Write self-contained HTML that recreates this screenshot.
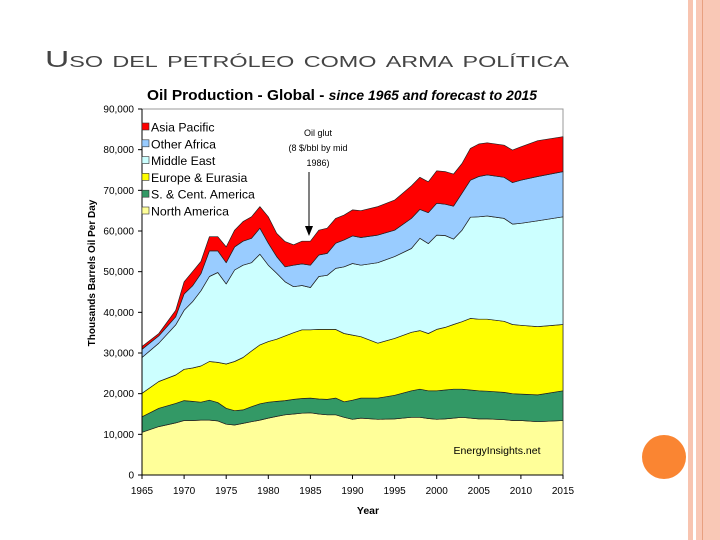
<!DOCTYPE html>
<html><head><meta charset="utf-8"><style>
body{margin:0;background:#fff;width:720px;height:540px;overflow:hidden}
svg{display:block;font-family:"Liberation Sans",sans-serif}
</style></head><body>
<svg id="s" width="720" height="540">
<rect x="688" y="0" width="5" height="540" fill="#f8c4b0"/>
<rect x="696" y="0" width="24" height="540" fill="#f9c8b6"/>
<rect x="702" y="0" width="1" height="540" fill="#e8a080"/>
<circle cx="664" cy="457" r="22" fill="#fa8532"/>
<text x="45" y="67" font-size="23" fill="#444" style="font-variant:small-caps" textLength="524" lengthAdjust="spacingAndGlyphs">Uso del petróleo como arma política</text>
<g id="chart"></g>
</svg>
<script>
const years=[1965,1967,1969,1970,1971,1972,1973,1974,1975,1976,1977,1978,1979,1980,1981,1982,1983,1984,1985,1986,1987,1988,1989,1990,1991,1993,1995,1997,1998,1999,2000,2001,2002,2003,2004,2005,2006,2008,2009,2010,2012,2015];
const northAmerica=[10500,11900,12800,13400,13400,13500,13500,13300,12500,12300,12700,13100,13500,14000,14400,14800,15000,15200,15300,15000,14800,14800,14200,13700,14000,13700,13800,14200,14200,13900,13700,13800,14000,14200,14000,13800,13800,13600,13400,13400,13100,13400];
const southCentAmerica=[3800,4500,4800,4900,4700,4400,4900,4500,3900,3500,3300,3700,4000,3900,3700,3500,3600,3600,3600,3700,3800,4100,3800,4700,4900,5200,5800,6500,6900,6800,7000,7100,7100,6900,6900,6900,6800,6700,6600,6500,6600,7300];
const europeEurasia=[5800,6600,7000,7700,8200,8900,9500,9900,10900,12100,12900,13700,14500,14900,15300,15900,16400,16900,16800,17100,17200,16900,16800,16000,15100,13500,14000,14400,14400,14100,15100,15400,15900,16600,17600,17600,17700,17500,17000,16900,16800,16300];
const middleEast=[8800,9400,12300,14500,16300,18500,20900,22100,19700,22500,22700,21700,22300,18800,16200,13300,11300,10900,10400,13000,13300,15000,16400,17600,17600,19800,20100,20600,22700,22100,23200,22600,21000,22500,24900,25200,25400,25300,24700,25100,26000,26500];
const otherAfrica=[2000,1800,2000,4000,3900,4200,6300,5300,5200,5700,5900,6000,6400,5400,4100,3700,5300,5300,5500,5300,5400,6200,6600,6800,6800,6800,6500,7400,7100,7600,7800,7700,8100,9100,9100,9900,10100,10100,10200,10600,10900,11100];
const asiaPacific=[700,600,1600,3000,3500,3000,3500,3500,3900,4100,4800,5300,5300,6500,5700,6200,5000,5600,5900,6100,6200,6100,6100,6400,6600,7000,7400,8000,7900,7600,8000,8000,7900,7300,7800,8000,7900,7900,8000,8200,8800,8600];
const seriesNames=["North America","S. & Cent. America","Europe & Eurasia","Middle East","Other Africa","Asia Pacific"];
const yTicks=[0,10000,20000,30000,40000,50000,60000,70000,80000,90000];
const xTicks=[1965,1970,1975,1980,1985,1990,1995,2000,2005,2010,2015];

const NS="http://www.w3.org/2000/svg";
const g=document.getElementById('chart');
const X0=142,X1=563,Y0=475,Y1=109;
const xs=y=>X0+(y-1965)/(2015-1965)*(X1-X0);
const ys=v=>Y0-v/90000*(Y0-Y1);
function mk(t,a,p){const e=document.createElementNS(NS,t);for(const k in a)e.setAttribute(k,a[k]);(p||g).appendChild(e);return e;}
const colors=["#ffff99","#339966","#ffff00","#ccffff","#99ccff","#ff0000"];
const keys=["north-america","s-cent-america","europe-eurasia","middle-east","other-africa","asia-pacific"];
const all=[northAmerica,southCentAmerica,europeEurasia,middleEast,otherAfrica,asiaPacific];

let bg=mk('rect',{x:X0,y:Y1,width:X1-X0,height:Y0-Y1,fill:'#fff',stroke:'#999','stroke-width':1});



let base=years.map(()=>0);
all.forEach((ser,si)=>{
  const top=base.map((b,i)=>b+ser[i]);
  let d='M'+years.map((y,i)=>xs(y).toFixed(1)+','+ys(top[i]).toFixed(1)).join('L');
  for(let i=years.length-1;i>=0;i--)d+='L'+xs(years[i]).toFixed(1)+','+ys(base[i]).toFixed(1);
  d+='Z';
  const p=mk('path',{d:d,fill:colors[si],stroke:'#222','stroke-width':0.7,'stroke-linejoin':'round'});
  
  
  base=top;
});

mk('line',{x1:X0,y1:Y1,x2:X0,y2:Y0,stroke:'#000','stroke-width':1});
mk('line',{x1:X0,y1:Y0,x2:X1,y2:Y0,stroke:'#000','stroke-width':1});
yTicks.forEach(v=>{
  mk('line',{x1:X0-4,y1:ys(v),x2:X0,y2:ys(v),stroke:'#000'});
  const t=mk('text',{x:X0-8,y:ys(v)+3.5,'font-size':10,'text-anchor':'end',fill:'#000'});
  t.textContent=v.toLocaleString('en-US');
  
  
});
xTicks.forEach(y=>{
  mk('line',{x1:xs(y),y1:Y0,x2:xs(y),y2:Y0+4,stroke:'#000'});
  const t=mk('text',{x:xs(y),y:Y0+19,'font-size':10,'text-anchor':'middle',fill:'#000'});
  t.textContent=y;
  
  
});
let t=mk('text',{x:368,y:514,'font-size':10.5,'font-weight':'bold','text-anchor':'middle'});t.textContent='Year';


t=mk('text',{x:0,y:0,'font-size':10,'font-weight':'bold','text-anchor':'middle',transform:'translate(95,273) rotate(-90)'});t.textContent='Thousands Barrels Oil Per Day';


t=mk('text',{x:147,y:100,'font-size':15,'font-weight':'bold',textLength:390,lengthAdjust:'spacingAndGlyphs'});
t.innerHTML='Oil Production - Global - <tspan font-style="italic" font-size="13.5">since 1965 and forecast to 2015</tspan>';



for(let i=5;i>=0;i--){
  const k=5-i, yy=128+k*16.8;
  const r=mk('rect',{x:142,y:yy-5,width:7,height:7,fill:colors[i],stroke:'#333','stroke-width':0.6});
  
  
  const l=mk('text',{x:151,y:yy+3.5,'font-size':12.3,fill:'#000'});l.textContent=seriesNames[i];
  
  
}
['Oil glut','(8 $/bbl by mid','1986)'].forEach((s,i)=>{
  const a=mk('text',{x:318,y:136+i*15,'font-size':9,'text-anchor':'middle'});a.textContent=s;
  
  
});
const ar=mk('line',{x1:309,y1:172,x2:309,y2:232,stroke:'#000','stroke-width':1});


mk('path',{d:'M305,226L309,236L313,226Z',fill:'#000'});
t=mk('text',{x:497,y:454,'font-size':10.5,'text-anchor':'middle'});t.textContent='EnergyInsights.net';


</script>
</body></html>
